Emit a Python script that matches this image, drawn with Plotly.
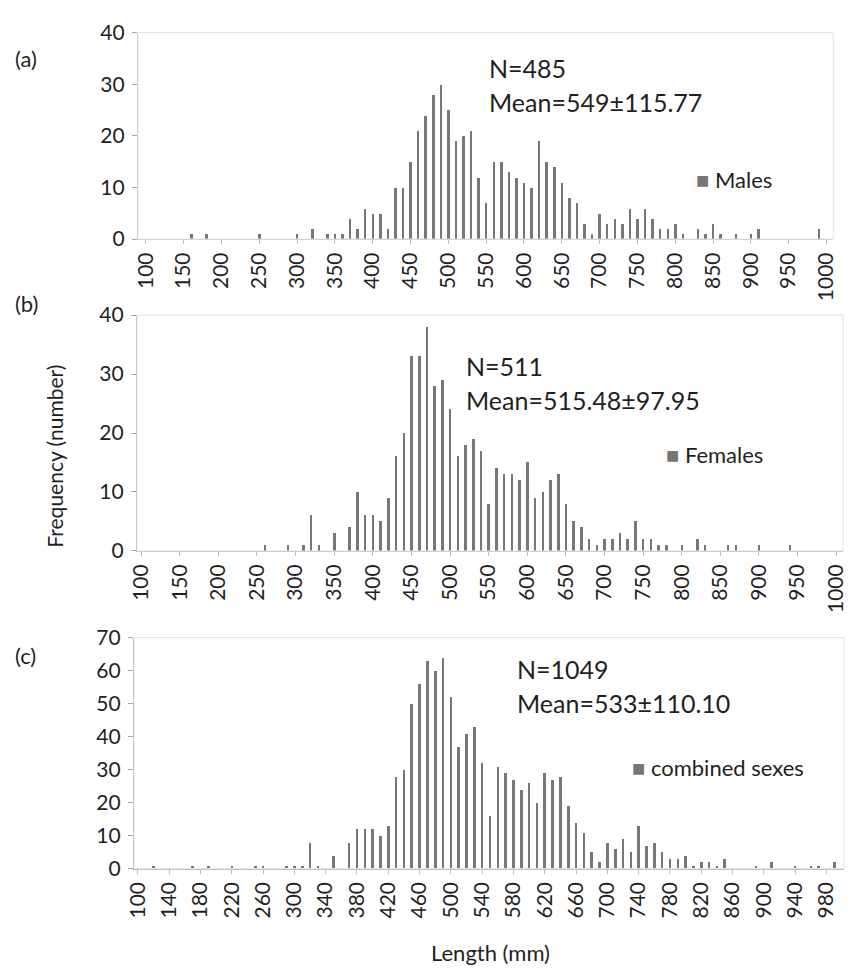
import plotly.graph_objects as go

W, H = 853, 978

# Length classes (mm), 10 mm bins
length_bins = [100, 110, 120, 130, 140, 150, 160, 170, 180, 190,
               200, 210, 220, 230, 240, 250, 260, 270, 280, 290,
               300, 310, 320, 330, 340, 350, 360, 370, 380, 390,
               400, 410, 420, 430, 440, 450, 460, 470, 480, 490,
               500, 510, 520, 530, 540, 550, 560, 570, 580, 590,
               600, 610, 620, 630, 640, 650, 660, 670, 680, 690,
               700, 710, 720, 730, 740, 750, 760, 770, 780, 790,
               800, 810, 820, 830, 840, 850, 860, 870, 880, 890,
               900, 910, 920, 930, 940, 950, 960, 970, 980, 990, 1000]

# Frequencies per bin (number of fish)
males = [0, 0, 0, 0, 0, 0, 1, 0, 1, 0,
         0, 0, 0, 0, 0, 1, 0, 0, 0, 0,
         1, 0, 2, 0, 1, 1, 1, 4, 2, 6,
         5, 5, 2, 10, 10, 15, 21, 24, 28, 30,
         25, 19, 20, 21, 12, 7, 15, 15, 13, 12,
         11, 10, 19, 15, 14, 11, 8, 7, 3, 1,
         5, 3, 4, 3, 6, 4, 6, 4, 2, 2,
         3, 1, 0, 2, 1, 3, 1, 0, 1, 0,
         1, 2, 0, 0, 0, 0, 0, 0, 0, 2, 0]

females = [0, 0, 0, 0, 0, 0, 0, 0, 0, 0,
           0, 0, 0, 0, 0, 0, 1, 0, 0, 1,
           0, 1, 6, 1, 0, 3, 0, 4, 10, 6,
           6, 5, 9, 16, 20, 33, 33, 38, 28, 29,
           24, 16, 18, 19, 17, 8, 14, 13, 13, 12,
           15, 9, 10, 12, 13, 8, 5, 4, 2, 1,
           2, 2, 3, 2, 5, 2, 2, 1, 1, 0,
           1, 0, 2, 1, 0, 0, 1, 1, 0, 0,
           1, 0, 0, 0, 1, 0, 0, 0, 0, 0, 0]

combined = [0, 0, 1, 0, 0, 0, 0, 1, 0, 1,
            0, 0, 1, 0, 0, 1, 1, 0, 0, 1,
            1, 1, 8, 1, 0, 4, 0, 8, 12, 12,
            12, 10, 13, 28, 30, 50, 56, 63, 60, 64,
            52, 37, 41, 43, 32, 16, 31, 29, 27, 24,
            26, 20, 29, 27, 28, 19, 14, 11, 5, 2,
            8, 6, 9, 5, 13, 7, 8, 5, 3, 3,
            4, 1, 2, 2, 1, 3, 0, 0, 0, 1,
            0, 2, 0, 0, 1, 0, 1, 1, 0, 2, 0]

# Tick labels of each panel's length axis
ticks_ab = [100, 150, 200, 250, 300, 350, 400, 450, 500, 550,
            600, 650, 700, 750, 800, 850, 900, 950, 1000]
ticks_c = [100, 140, 180, 220, 260, 300, 340, 380, 420, 460, 500,
           540, 580, 620, 660, 700, 740, 780, 820, 860, 900, 940, 980]

panel_letters = ["(a)", "(b)", "(c)"]
series_names = ["Males", "Females", "combined sexes"]
sample_sizes = ["N=485", "N=511", "N=1049"]
mean_texts = ["Mean=549\u00b1115.77", "Mean=515.48\u00b197.95", "Mean=533\u00b1110.10"]

FONT = "Lato"
TXT = "#1f1f1f"
BAR = "#767676"


def px(x):
    return x / W


def py(y):
    return 1 - y / H


# panel geometry in pixels: (left, right, top, bottom), x range, y max
panels = [
    dict(box=(130, 837, 19, 231), xr=[89.6, 1009], ymax=40, ticks=ticks_ab, data=males),
    dict(box=(129, 847, 309, 551), xr=[94.5, 1009], ymax=40, ticks=ticks_ab, data=females),
    dict(box=(126, 848, 640, 877), xr=[95, 1002.6], ymax=70, ticks=ticks_c, data=combined),
]

fig = go.Figure()
layout = dict(
    width=W, height=H,
    margin=dict(l=0, r=0, t=0, b=0),
    paper_bgcolor="white", plot_bgcolor="white",
    showlegend=False,
    font=dict(family=FONT, color=TXT, size=20),
    bargap=0,
)

shapes = []
for i, p in enumerate(panels):
    sfx = "" if i == 0 else str(i + 1)
    l, r, t, b = p["box"]
    fig.add_trace(go.Bar(
        x=length_bins, y=p["data"], width=3.3,
        marker=dict(color=BAR, line=dict(width=0)),
        name=series_names[i], xaxis="x" + sfx, yaxis="y" + sfx,
    ))
    layout["xaxis" + sfx] = dict(
        domain=[px(l), px(r)], range=p["xr"], anchor="y" + sfx,
        tickmode="array", tickvals=p["ticks"], ticktext=[str(v) for v in p["ticks"]],
        tickangle=-90, ticks="outside", ticklen=4, tickcolor="#bfbfbf",
        showline=True, linecolor="#bfbfbf", linewidth=1,
        showgrid=False, zeroline=False, fixedrange=True,
        tickfont=dict(size=21, family=FONT, color=TXT),
    )
    layout["yaxis" + sfx] = dict(
        domain=[py(b), py(t)], range=[0, p["ymax"]], anchor="x" + sfx,
        tickmode="linear", tick0=0, dtick=10,
        ticks="outside", ticklen=5, tickcolor="#a6a6a6",
        showline=True, linecolor="#a6a6a6", linewidth=1,
        showgrid=False, zeroline=False, fixedrange=True,
        ticklabelstandoff=3,
        tickfont=dict(size=21, family=FONT, color=TXT),
    )
    # light frame around the plot area
    shapes.append(dict(type="rect", xref="x" + sfx + " domain", yref="y" + sfx + " domain",
                       x0=0, x1=1, y0=0, y1=1, line=dict(color="#e4e4e4", width=1)))

fig.update_layout(**layout)
fig.update_layout(shapes=shapes)

# text blocks placed in pixel coordinates
stats_pos = [(485, 55, 90), (462, 361, 396), (513, 672, 707)]
legend_pos = [(695, 170), (665, 452), (630, 773)]
letter_pos = [46, 297, 658]

ann = []
for i in range(3):
    x0, yn, ym = stats_pos[i]
    ann.append(dict(text=sample_sizes[i], x=px(x0), y=py(yn), xref="paper", yref="paper",
                    xanchor="left", yanchor="middle", showarrow=False,
                    font=dict(size=25, family=FONT, color=TXT)))
    ann.append(dict(text=mean_texts[i], x=px(x0), y=py(ym), xref="paper", yref="paper",
                    xanchor="left", yanchor="middle", showarrow=False,
                    font=dict(size=25, family=FONT, color=TXT)))
    lx, ly = legend_pos[i]
    ann.append(dict(text='<span style="color:%s">\u25a0</span> %s' % (BAR, series_names[i]),
                    x=px(lx), y=py(ly), xref="paper", yref="paper",
                    xanchor="left", yanchor="middle", showarrow=False,
                    font=dict(size=22, family=FONT, color=TXT)))
    ann.append(dict(text=panel_letters[i], x=px(3), y=py(letter_pos[i]), xref="paper", yref="paper",
                    xanchor="left", yanchor="middle", showarrow=False,
                    font=dict(size=22, family=FONT, color=TXT)))

ann.append(dict(text="Frequency (number)", x=px(45), y=py(454), xref="paper", yref="paper",
                textangle=-90, xanchor="center", yanchor="middle", showarrow=False,
                font=dict(size=21, family=FONT, color=TXT)))
ann.append(dict(text="Length (mm)", x=px(489), y=py(963), xref="paper", yref="paper",
                xanchor="center", yanchor="middle", showarrow=False,
                font=dict(size=22, family=FONT, color=TXT)))
fig.update_layout(annotations=ann)

fig.write_html("out.html")
